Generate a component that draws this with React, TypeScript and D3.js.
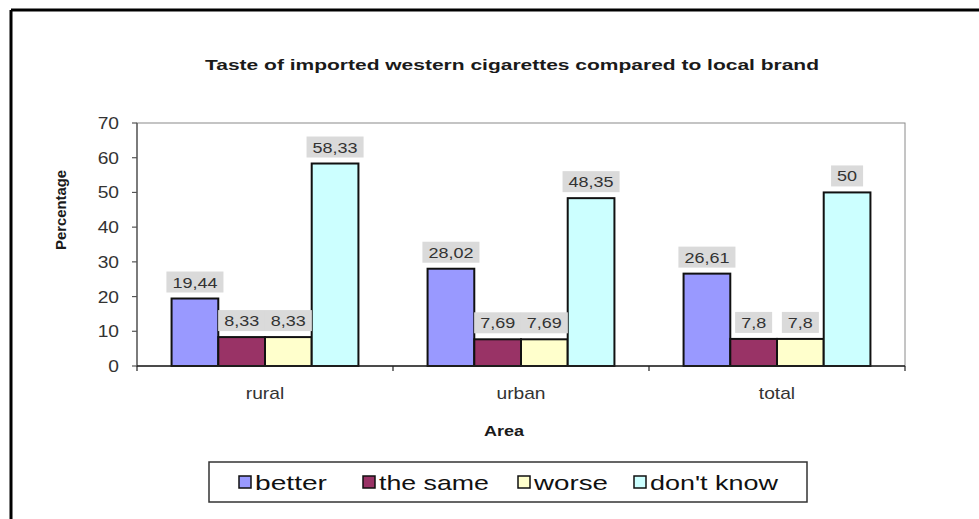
import React from "react";
import * as d3 from "d3";

const categories = ["rural", "urban", "total"];
const seriesNames = ["better", "the same", "worse", "don't know"];
const better = [19.44, 28.02, 26.61];
const theSame = [8.33, 7.69, 7.8];
const worse = [8.33, 7.69, 7.8];
const dontKnow = [58.33, 48.35, 50];
const yTicks = [0, 10, 20, 30, 40, 50, 60, 70];
const seriesColors = ["#9999ff", "#993366", "#ffffcc", "#ccffff"];

const W = 979;
const H = 519;
const SX = 1.2;
const FONT = "'Liberation Sans', Arial, sans-serif";

const plot = { left: 137, right: 905, top: 123, bottom: 366 };

function T({ x, y, size, anchor = "start", weight = "normal", fill = "#333", sx = SX, children }: any) {
  return (
    <text
      transform={`translate(${x},${y}) scale(${sx},1)`}
      fontSize={size}
      fontFamily={FONT}
      fontWeight={weight}
      textAnchor={anchor}
      fill={fill}
    >
      {children}
    </text>
  );
}

function textWidth(s: string, size: number) {
  let w = 0;
  for (const c of s) w += c === "," ? 0.278 : 0.556;
  return w * size * SX;
}

export default function App() {
  const series = [better, theSame, worse, dontKnow];
  const x = d3.scaleBand<string>().domain(categories).range([plot.left, plot.right]).paddingInner(0).paddingOuter(0);
  const xs = d3.scaleBand<string>().domain(seriesNames).range([0, x.bandwidth()]).paddingInner(0).paddingOuter(0.74);
  const y = d3.scaleLinear().domain([0, 70]).range([plot.bottom, plot.top]);

  const legendSym = [239, 363, 518, 634];
  const legendTxt = [255, 379, 534, 650];
  const legendW = [72, 110, 74, 128];

  const boundaries = [plot.left, ...categories.map((c) => (x(c) as number) + x.bandwidth())];

  return (
    <svg width={W} height={H} style={{ position: "absolute", left: 0, top: 0, background: "#fff" }}>
      <rect x={0} y={0} width={W} height={H} fill="#fff" />
      <line x1={11} y1={10} x2={W} y2={10} stroke="#000" strokeWidth={3} />
      <line x1={11} y1={10} x2={11} y2={H} stroke="#000" strokeWidth={3} />

      <text x={512} y={70} fontSize={15} fontWeight="bold" fontFamily={FONT} textAnchor="middle" fill="#1a1a1a"
        textLength={614} lengthAdjust="spacingAndGlyphs">
        Taste of imported western cigarettes compared to local brand
      </text>

      <rect x={plot.left} y={plot.top} width={plot.right - plot.left} height={plot.bottom - plot.top}
        fill="#fff" stroke="#8a8a8a" strokeWidth={1} />
      <line x1={plot.left} y1={plot.top} x2={plot.left} y2={plot.bottom} stroke="#555" strokeWidth={1.3} />

      {yTicks.map((t) => (
        <g key={t}>
          <line x1={plot.left - 5} x2={plot.left} y1={y(t)} y2={y(t)} stroke="#555" strokeWidth={1.2} />
          <T x={plot.left - 18} y={y(t) + 6} size={16} anchor="end">{t}</T>
        </g>
      ))}

      {categories.map((c, ci) => (
        <g key={c}>
          {series.map((s, si) => {
            const bx = (x(c) as number) + (xs(seriesNames[si]) as number);
            const by = y(s[ci]);
            return (
              <rect key={si} x={bx} y={by} width={xs.bandwidth()} height={plot.bottom - by}
                fill={seriesColors[si]} stroke="#111" strokeWidth={2} />
            );
          })}
        </g>
      ))}

      {categories.map((c, ci) => (
        <g key={c + "l"}>
          {series.map((s, si) => {
            const cx = (x(c) as number) + (xs(seriesNames[si]) as number) + xs.bandwidth() / 2;
            const label = String(s[ci]).replace(".", ",");
            const tw = textWidth(label, 15);
            const bw = tw + 12;
            const bottom = y(s[ci]) - 6;
            const bh = 21;
            return (
              <g key={si}>
                <rect x={cx - bw / 2} y={bottom - bh} width={bw} height={bh} fill="#dadada" />
                <T x={cx} y={bottom - 5} size={15} anchor="middle">{label}</T>
              </g>
            );
          })}
        </g>
      ))}

      <line x1={plot.left} x2={plot.right} y1={plot.bottom} y2={plot.bottom} stroke="#222" strokeWidth={1.5} />
      {boundaries.map((b, i) => (
        <line key={i} x1={b} x2={b} y1={plot.bottom} y2={plot.bottom + 5} stroke="#222" strokeWidth={1.2} />
      ))}
      {categories.map((c) => (
        <T key={c} x={(x(c) as number) + x.bandwidth() / 2} y={399} size={16} anchor="middle">{c}</T>
      ))}

      <T x={504} y={436} size={15} anchor="middle" weight="bold" fill="#1a1a1a">Area</T>
      <text transform={`translate(66,210) rotate(-90)`} fontSize={15} fontWeight="bold"
        fontFamily={FONT} textAnchor="middle" fill="#1a1a1a" textLength={80} lengthAdjust="spacingAndGlyphs">
        Percentage
      </text>

      <rect x={209} y={462} width={598} height={40} fill="#fff" stroke="#333" strokeWidth={1.5} />
      {seriesNames.map((n, i) => (
        <g key={n}>
          <rect x={legendSym[i]} y={476} width={12} height={12} fill={seriesColors[i]} stroke="#111" strokeWidth={1.5} />
          <text x={legendTxt[i]} y={490} fontSize={21} fontFamily={FONT} fill="#111"
            textLength={legendW[i]} lengthAdjust="spacingAndGlyphs">{n}</text>
        </g>
      ))}
    </svg>
  );
}
